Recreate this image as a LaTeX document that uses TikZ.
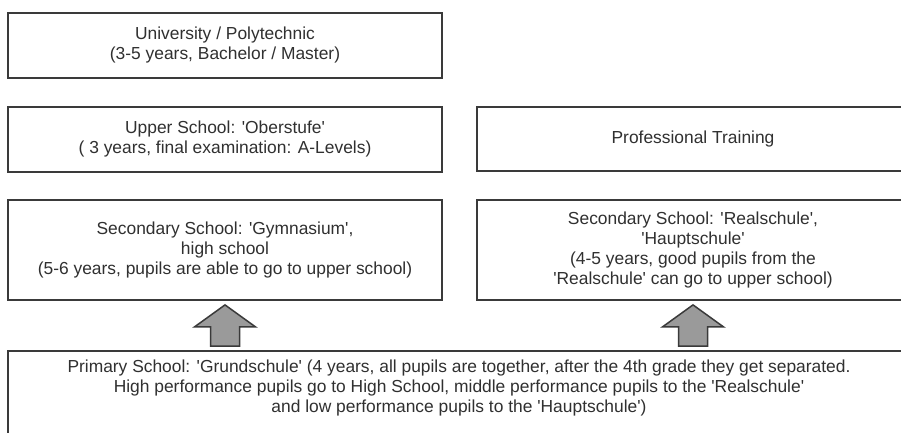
\documentclass[tikz,border=0pt]{standalone}
\usepackage{fontspec}
\setmainfont{Liberation Sans}
\usetikzlibrary{calc}
\newcommand{\apos}{\textquotesingle}
\definecolor{edge}{HTML}{3A3A3A}
\definecolor{ink}{HTML}{303030}
\definecolor{arrowfill}{HTML}{9A9A9A}
\begin{document}
\begin{tikzpicture}[x=1pt,y=-1pt,
  box/.style={draw=edge, line width=1.8pt, fill=white, align=center,
    text=ink, font=\fontsize{17.4}{20}\selectfont, inner sep=0pt},
  uparrow/.style={draw=edge, line width=1.5pt, fill=arrowfill, line join=miter}]
\useasboundingbox (0,0) rectangle (901,433);
\clip (0,0) rectangle (901,433);
\fill[white] (0,0) rectangle (901,433);

% left column
\node[box, minimum width=434pt, minimum height=65pt] (uni) at (225,45.5)
  {University / Polytechnic\\(3-5 years, Bachelor / Master)};
\node[box, minimum width=434pt, minimum height=65pt] (upper) at (225,139.5)
  {Upper School: \apos Oberstufe\apos\\( 3 years, final examination: A-Levels)};
\node[box, minimum width=434pt, minimum height=100pt] (gym) at (225,250)
  {Secondary School: \apos Gymnasium\apos,\\high school\\(5-6 years, pupils are able to go to upper school)};

% right column
\node[box, minimum width=432pt, minimum height=64pt] (prof) at (693,139)
  {Professional Training};
\node[box, minimum width=432pt, minimum height=100pt] (real) at (693,250)
  {Secondary School: \apos Realschule\apos,\\\apos Hauptschule\apos\\(4-5 years, good pupils from the\\\apos Realschule\apos{} can go to upper school)};

% primary school (runs past the lower and right edges)
\node[box, minimum width=902pt, minimum height=110pt] (primary) at (459,406) {};
\node[align=center, text=ink, font=\fontsize{17.4}{20}\selectfont, inner sep=0pt,
  anchor=north] (primtext) at (459,360)
  {Primary School: \apos Grundschule\apos{} (4 years, all pupils are together, after the 4th grade they get separated.\\
   High performance pupils go to High School, middle performance pupils to the \apos Realschule\apos\\
   and low performance pupils to the \apos Hauptschule\apos)};

% block arrows from primary school up to the secondary schools
\foreach \t in {gym, real} {
  \draw[uparrow] let \p1=(\t.south), \p2=(primary.north) in
    (\x1,\y1-4pt) -- (\x1+30.5pt,\y1-26pt) -- (\x1+14.5pt,\y1-26pt)
    -- (\x1+14.5pt,\y2+4pt) -- (\x1-14.5pt,\y2+4pt) -- (\x1-14.5pt,\y1-26pt)
    -- (\x1-30.5pt,\y1-26pt) -- cycle;
}
\end{tikzpicture}
\end{document}
